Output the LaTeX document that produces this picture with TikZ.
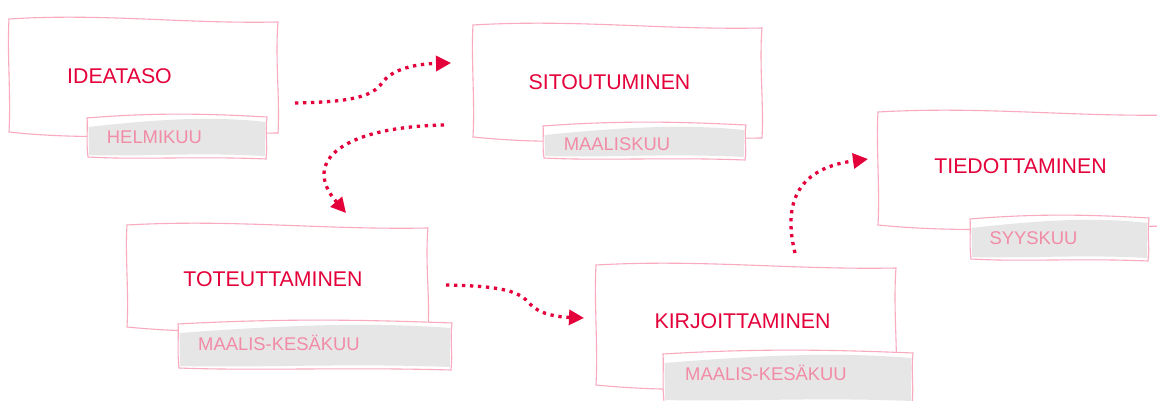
\documentclass[tikz,border=0pt]{standalone}
\usepackage{fontspec}
\setmainfont{Liberation Sans}
\usetikzlibrary{arrows.meta}
\definecolor{txtred}{HTML}{E4003A}
\definecolor{boxpink}{HTML}{F9AABF}
\definecolor{lblpink}{HTML}{F28BA6}
\definecolor{lblgray}{HTML}{E6E6E6}
\tikzset{
  boxline/.style={draw=boxpink, line width=1.1pt},
  maintxt/.style={anchor=base, text=txtred, inner sep=0pt, font=\fontsize{21.3}{24}\selectfont},
  lbltxt/.style={anchor=base, text=lblpink, inner sep=0pt, font=\fontsize{18.4}{22}\selectfont},
  flow/.style={draw=txtred, line width=3.3pt, line cap=butt, dash pattern=on 3.3pt off 4.7pt,
    -{Triangle[length=15pt,width=15pt]}},
}
\newcommand{\sketchmain}[4]{%
  \draw[boxline, fill=white] (#1,#2) .. controls ({#1+0.35*(#3-#1)},{#2-6}) and ({#1+0.65*(#3-#1)},{#2+5}) .. (#3,{#2+3})
   .. controls ({#3-3},{#2+0.35*(#4-#2)}) and ({#3+2},{#2+0.7*(#4-#2)}) .. (#3,#4)
   .. controls ({#1+0.6*(#3-#1)},{#4+1}) and ({#1+0.3*(#3-#1)},{#4+8}) .. (#1,{#4-1})
   .. controls ({#1+2},{#2+0.65*(#4-#2)}) and ({#1-2},{#2+0.3*(#4-#2)}) .. cycle;}
\newcommand{\sketchlabel}[4]{%
  \path[fill=white] (#1,{#2+4}) .. controls ({#1+0.4*(#3-#1)},{#2-2}) and ({#1+0.7*(#3-#1)},{#2}) .. (#3,{#2+3})
   .. controls ({#3-2},{#2+0.4*(#4-#2)}) and ({#3+1},{#2+0.7*(#4-#2)}) .. ({#3-1},#4)
   .. controls ({#1+0.6*(#3-#1)},{#4-3}) and ({#1+0.3*(#3-#1)},{#4+1}) .. ({#1+1},{#4-2})
   .. controls ({#1-1},{#2+0.6*(#4-#2)}) and ({#1+1},{#2+0.3*(#4-#2)}) .. cycle;
  \path[fill=lblgray] ({#1+1.5},{#2+13}) .. controls ({#1+0.4*(#3-#1)},{#2+5}) and ({#1+0.7*(#3-#1)},{#2+2}) .. ({#3-1.5},{#2+8})
   -- ({#3-2},{#4-3}) .. controls ({#1+0.6*(#3-#1)},{#4-7}) and ({#1+0.3*(#3-#1)},{#4-2}) .. ({#1+2},{#4-4}) -- cycle;
  \draw[boxline] (#1,{#2+4}) .. controls ({#1+0.4*(#3-#1)},{#2-2}) and ({#1+0.7*(#3-#1)},{#2}) .. (#3,{#2+3})
   .. controls ({#3-2},{#2+0.4*(#4-#2)}) and ({#3+1},{#2+0.7*(#4-#2)}) .. ({#3-1},#4)
   .. controls ({#1+0.6*(#3-#1)},{#4-3}) and ({#1+0.3*(#3-#1)},{#4+1}) .. ({#1+1},{#4-2})
   .. controls ({#1-1},{#2+0.6*(#4-#2)}) and ({#1+1},{#2+0.3*(#4-#2)}) .. cycle;}
\begin{document}
\begin{tikzpicture}[x=1pt,y=-1pt]
\useasboundingbox (0,0) rectangle (1157,401);
\clip (0,0) rectangle (1157,401);
% boxes
\sketchmain{9}{19}{278}{133}
\sketchlabel{87}{114}{267}{159}
\sketchmain{473}{25}{762}{138}
\sketchlabel{543}{122}{746}{160}
\sketchmain{878}{112}{1175}{226}
\sketchlabel{970}{215}{1149}{261}
\sketchmain{127}{225}{428}{328}
\sketchlabel{178}{320}{452}{370}
\sketchmain{596}{265}{896}{386}
\sketchlabel{663}{350}{913}{404}
% texts
\node[maintxt] (ideataso) at (119.5,83.3) {IDEATASO};
\node[lbltxt] (helmikuu) at (154.5,143.3) {HELMIKUU};
\node[maintxt] (sitoutuminen) at (609.5,89.3) {SITOUTUMINEN};
\node[lbltxt] (maaliskuu) at (617,150) {MAALISKUU};
\node[maintxt] (tiedottaminen) at (1020.5,174) {TIEDOTTAMINEN};
\node[lbltxt] (syyskuu) at (1033.5,244) {SYYSKUU};
\node[maintxt] (toteuttaminen) at (273,286.7) {TOTEUTTAMINEN};
\node[lbltxt] (maaliskesa1) at (279,350) {MAALIS-KESÄKUU};
\node[maintxt] (kirjoittaminen) at (742.5,328.3) {KIRJOITTAMINEN};
\node[lbltxt] (maaliskesa2) at (766,380.7) {MAALIS-KESÄKUU};
% connector ends
\coordinate (a1s) at (295,103);
\coordinate (a1e) at (451,63);
\coordinate (a2s) at (444,125);
\coordinate (a2e) at (346,213);
\coordinate (a3s) at (446,285);
\coordinate (a3e) at (584,318);
\coordinate (a4s) at (795,253);
\coordinate (a4e) at (868,159);
% connectors
\draw[flow] (a1s) .. controls (350,102) and (372,97) .. (382,83) .. controls (392,69) and (415,64) .. (a1e);
\draw[flow] (a2s) .. controls (345,127) and (300,160) .. (a2e);
\draw[flow] (a3s) .. controls (505,286) and (520,292) .. (530,304) .. controls (540,315) and (560,317) .. (a3e);
\draw[flow] (a4s) .. controls (782,200) and (800,168) .. (a4e);
\end{tikzpicture}
\end{document}
